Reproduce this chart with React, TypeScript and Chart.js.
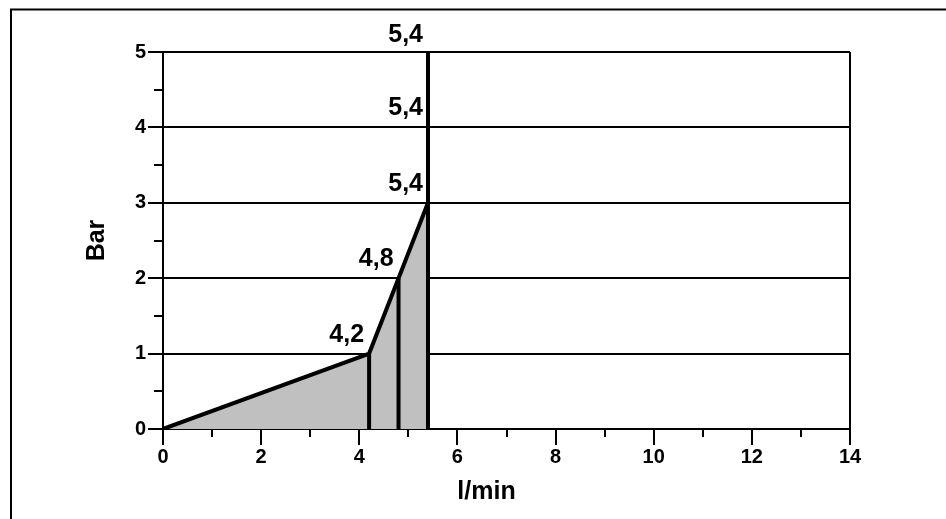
import { useEffect, useRef } from "react";
import { Chart, registerables } from "chart.js";

Chart.register(...registerables);

const flowValues = [0, 4.2, 4.8, 5.4, 5.4, 5.4];
const pressureValues = [0, 1, 2, 3, 4, 5];
const dropIndices = [1, 2, 3];
const xMajorTicks = [0, 2, 4, 6, 8, 10, 12, 14];
const xMinorTicks = [1, 3, 5, 7, 9, 11, 13];
const yMajorTicks = [0, 1, 2, 3, 4, 5];
const yMinorTicks = [0.5, 1.5, 2.5, 3.5, 4.5];
const xTitle = "l/min";
const yTitle = "Bar";

const FONT = "'Liberation Sans', Arial, sans-serif";

const fmt = (v: number) => String(v).replace(".", ",");

const framePlugin = {
  id: "frame",
  beforeDraw(chart: any) {
    const { ctx, width, height } = chart;
    ctx.save();
    ctx.strokeStyle = "#000";
    ctx.lineWidth = 2;
    ctx.beginPath();
    ctx.moveTo(11, height);
    ctx.lineTo(11, 9.5);
    ctx.lineTo(width, 9.5);
    ctx.stroke();
    ctx.restore();
  },
};

const minorTickPlugin = {
  id: "minorTicks",
  afterDraw(chart: any) {
    const { ctx, scales } = chart;
    const x = scales.x;
    const y = scales.y;
    ctx.save();
    ctx.strokeStyle = "#000";
    ctx.lineWidth = 2;
    ctx.beginPath();
    yMinorTicks.forEach((v) => {
      const py = Math.round(y.getPixelForValue(v));
      ctx.moveTo(x.left - 9, py);
      ctx.lineTo(x.left, py);
    });
    xMinorTicks.forEach((v) => {
      const px = Math.round(x.getPixelForValue(v));
      ctx.moveTo(px, y.bottom);
      ctx.lineTo(px, y.bottom + 8);
    });
    ctx.stroke();
    ctx.restore();
  },
};

const pointLabelPlugin = {
  id: "pointLabels",
  afterDraw(chart: any) {
    const { ctx } = chart;
    const meta = chart.getDatasetMeta(0);
    ctx.save();
    ctx.fillStyle = "#000";
    ctx.font = `bold 25px ${FONT}`;
    ctx.textAlign = "right";
    ctx.textBaseline = "alphabetic";
    meta.data.forEach((pt: any, i: number) => {
      if (i === 0) return;
      const dy = i === meta.data.length - 1 ? 10 : 12;
      ctx.fillText(fmt(flowValues[i]), pt.x - 5, pt.y - dy);
    });
    ctx.restore();
  },
};

const xTitlePlugin = {
  id: "xTitle",
  afterDraw(chart: any) {
    const { ctx, chartArea } = chart;
    ctx.save();
    ctx.fillStyle = "#000";
    ctx.font = `bold 25px ${FONT}`;
    ctx.textAlign = "center";
    ctx.textBaseline = "middle";
    ctx.fillText(xTitle, (chartArea.left + chartArea.right) / 2 - 20, chartArea.bottom + 63);
    ctx.restore();
  },
};

export default function App() {
  const ref = useRef<HTMLCanvasElement | null>(null);

  useEffect(() => {
    if (!ref.current) return;
    const mainData = flowValues.map((x, i) => ({ x, y: pressureValues[i] }));
    const drops = dropIndices.map((i) => ({
      data: [
        { x: flowValues[i], y: 0 },
        { x: flowValues[i], y: pressureValues[i] },
      ],
      borderColor: "#000",
      borderWidth: 4,
      pointRadius: 0,
      fill: false,
      order: 1,
      borderCapStyle: "butt" as const,
    }));

    const chart = new Chart(ref.current, {
      type: "line",
      data: {
        datasets: [
          {
            data: mainData,
            borderColor: "#000",
            borderWidth: 4,
            backgroundColor: "#c0c0c0",
            fill: "origin",
            pointRadius: 0,
            tension: 0,
            order: 2,
            borderCapStyle: "butt",
            borderJoinStyle: "miter",
          },
          ...drops,
        ],
      },
      options: {
        animation: false,
        responsive: true,
        maintainAspectRatio: false,
        layout: { padding: { left: 0, top: 52, right: 96, bottom: 0 } },
        plugins: {
          legend: { display: false },
          tooltip: { enabled: false },
          filler: { drawTime: "beforeDatasetsDraw" },
        },
        scales: {
          x: {
            type: "linear",
            min: 0,
            max: 14,
            afterBuildTicks: (s: any) => {
              s.ticks = xMajorTicks.map((v) => ({ value: v }));
            },
            afterFit: (s: any) => {
              s.height = 90;
            },
            grid: {
              drawOnChartArea: true,
              color: (c: any) => (c.tick && c.tick.value === 14 ? "#000" : "rgba(0,0,0,0)"),
              tickColor: "#000",
              lineWidth: 2,
              tickLength: 16,
            },
            border: { display: true, color: "#000", width: 2 },
            ticks: {
              color: "#000",
              padding: 0,
              maxRotation: 0,
              autoSkip: false,
              font: { family: FONT, size: 20, weight: "bold" },
            },
          },
          y: {
            type: "linear",
            min: 0,
            max: 5,
            z: 1,
            afterBuildTicks: (s: any) => {
              s.ticks = yMajorTicks.map((v) => ({ value: v }));
            },
            afterFit: (s: any) => {
              s.width = 163;
            },
            grid: {
              color: "#000",
              tickColor: "#000",
              lineWidth: 2,
              tickLength: 15,
            },
            border: { display: true, color: "#000", width: 2 },
            ticks: {
              color: "#000",
              padding: 2,
              autoSkip: false,
              font: { family: FONT, size: 20, weight: "bold" },
            },
            title: {
              display: true,
              text: yTitle,
              color: "#000",
              font: { family: FONT, size: 25, weight: "bold" },
              padding: { top: 82, bottom: 0 },
            },
          },
        },
      },
      plugins: [framePlugin, minorTickPlugin, pointLabelPlugin, xTitlePlugin],
    } as any);

    return () => chart.destroy();
  }, []);

  return (
    <div style={{ position: "absolute", left: 0, top: 0, width: 946, height: 519 }}>
      <canvas ref={ref} />
    </div>
  );
}
